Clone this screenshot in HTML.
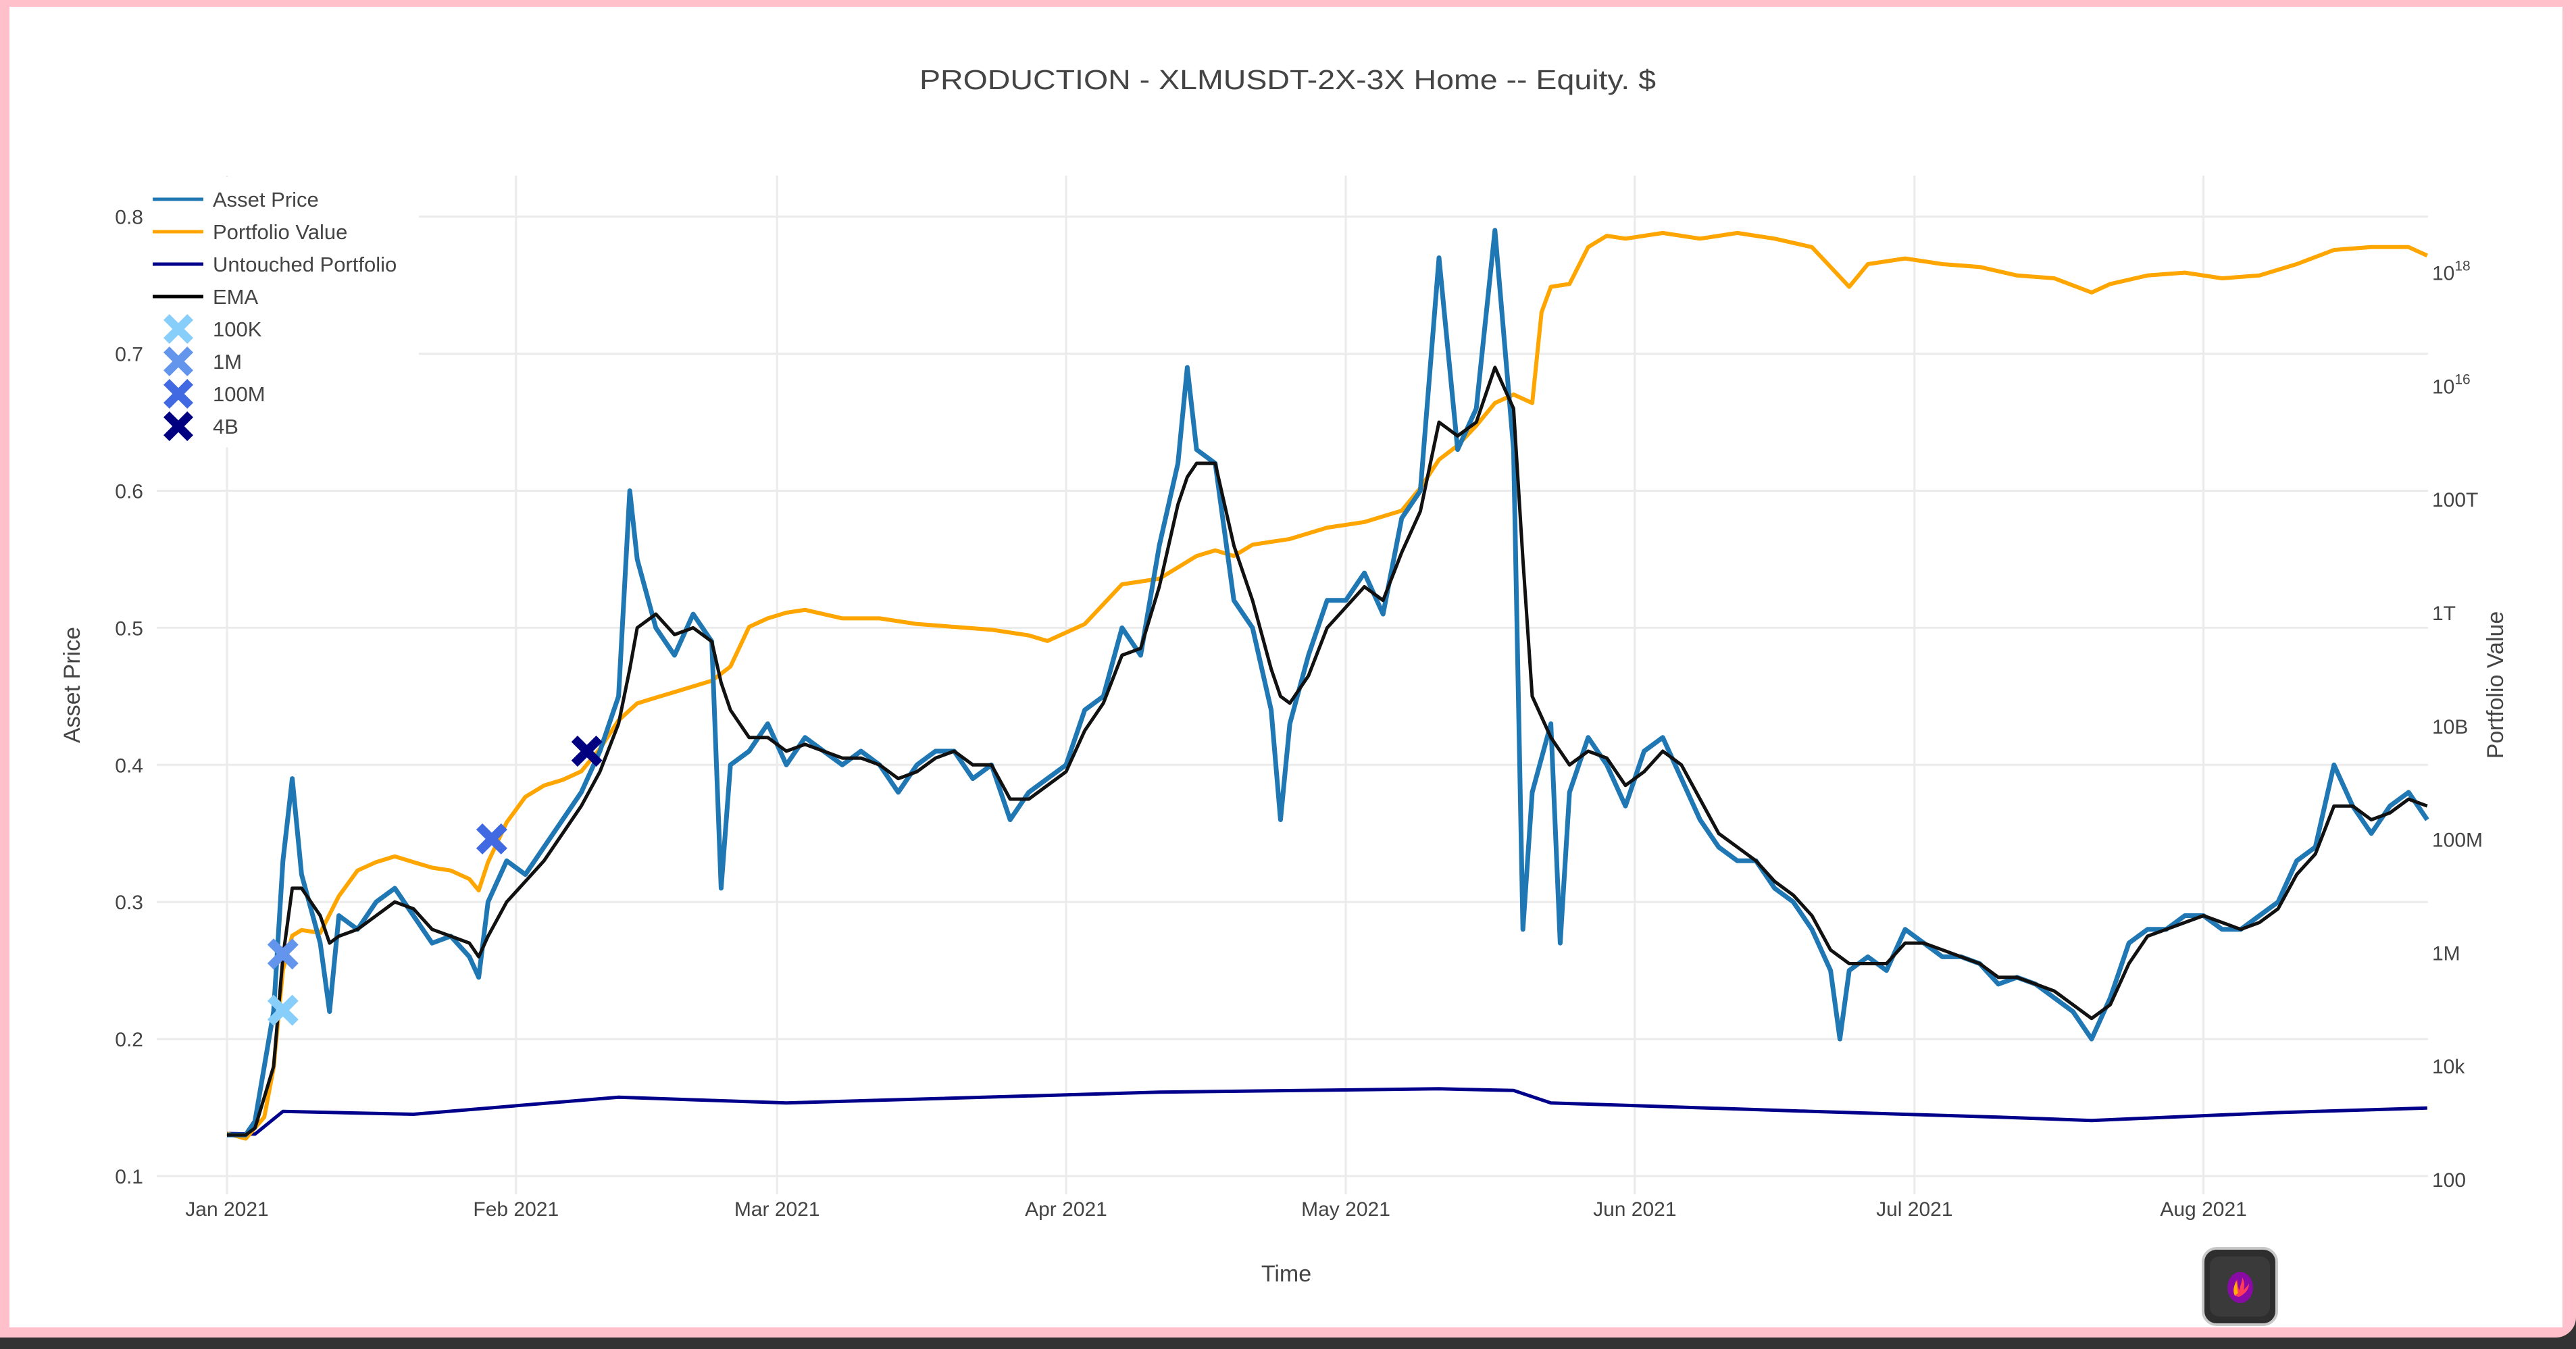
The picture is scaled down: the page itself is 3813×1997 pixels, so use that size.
<!DOCTYPE html>
<html><head><meta charset="utf-8">
<style>
html,body{margin:0;padding:0;background:#333;}
#wrap{position:relative;width:3813px;height:1997px;overflow:hidden;background:#333;}
#pink{position:absolute;left:0;top:0;width:3813px;height:1980px;background:#ffc0cb;border-bottom-right-radius:30px;}
#card{position:absolute;left:14px;top:10px;width:3779px;height:1955px;background:#fff;}
svg text{font-family:"Liberation Sans",sans-serif;fill:#444;}
#btn{position:absolute;left:3259px;top:1846px;width:113px;height:117px;box-sizing:border-box;background:#2e2e2e;border:4px solid #c8c8c8;border-radius:22px;}
#btn .inner{position:absolute;left:8px;top:10px;right:8px;bottom:10px;background:#3a3a3a;border-radius:14px;}
</style></head>
<body>
<div id="wrap">
<div id="pink"></div>
<div id="card"></div>
<svg id="chart" width="3813" height="1997" style="position:absolute;left:0;top:0">
  <text x="1906" y="132" font-size="41" text-anchor="middle" textLength="1090" lengthAdjust="spacingAndGlyphs">PRODUCTION - XLMUSDT-2X-3X Home -- Equity. $</text>
  <g id="grid"></g>
  <g id="series"></g>
  <g id="legend"></g>
  <g id="axes"></g>
  <text x="0" y="0" font-size="34" text-anchor="middle" transform="translate(118,1014) rotate(-90)">Asset Price</text>
  <text x="0" y="0" font-size="34" text-anchor="middle" transform="translate(3705,1014) rotate(-90)">Portfolio Value</text>
  <text x="1904" y="1897" font-size="34" text-anchor="middle">Time</text>
</svg>
<div id="btn"><div class="inner"></div>
<svg width="113" height="117" style="position:absolute;left:-4px;top:-4px">
<ellipse cx="57" cy="60" rx="19" ry="23" fill="#8a0aa5"/>
<path d="M49 72 C44 62 50 55 52 48 C54 55 53 60 56 64 C57 56 60 52 60 45 C64 52 63 58 62 64 C65 60 68 58 70 54 C70 64 63 70 55 74 Z" fill="#ff3c5a"/>
<path d="M49 72 C45 63 49 56 51 50 C53 57 52 63 54 68 Z" fill="#ffb000"/>
</svg></div>
</div>
<script>
// ---- data ----
const assetDays=[0,2,3,5,6,7,8,10,11,12,14,16,18,20,22,24,26,27,28,30,32,34,36,38,40,42,43.2,44,46,48,50,52,53,54,56,58,60,62,64,66,68,70,72,74,76,78,80,82,84,86,88,90,92,94,96,98,100,102,103,104,106,108,110,112,113,114,116,118,120,122,124,126,128,130,132,134,136,138,139,140,142,143,144,146,148,150,152,154,156,158,160,162,164,166,168,170,172,173,174,176,178,180,182,184,186,188,190,192,194,196,198,200,202,204,206,208,210,212,214,216,218,220,222,224,226,228,230,232,234,236];
const assetPrice=[0.13,0.13,0.14,0.22,0.33,0.39,0.32,0.27,0.22,0.29,0.28,0.30,0.31,0.29,0.27,0.275,0.26,0.245,0.30,0.33,0.32,0.34,0.36,0.38,0.41,0.45,0.60,0.55,0.50,0.48,0.51,0.49,0.31,0.40,0.41,0.43,0.40,0.42,0.41,0.40,0.41,0.40,0.38,0.40,0.41,0.41,0.39,0.40,0.36,0.38,0.39,0.40,0.44,0.45,0.50,0.48,0.56,0.62,0.69,0.63,0.62,0.52,0.50,0.44,0.36,0.43,0.48,0.52,0.52,0.54,0.51,0.58,0.60,0.77,0.63,0.66,0.79,0.63,0.28,0.38,0.43,0.27,0.38,0.42,0.40,0.37,0.41,0.42,0.39,0.36,0.34,0.33,0.33,0.31,0.30,0.28,0.25,0.20,0.25,0.26,0.25,0.28,0.27,0.26,0.26,0.255,0.24,0.245,0.24,0.23,0.22,0.20,0.23,0.27,0.28,0.28,0.29,0.29,0.28,0.28,0.29,0.30,0.33,0.34,0.40,0.37,0.35,0.37,0.38,0.36];
const emaValues=[0.13,0.13,0.135,0.18,0.26,0.31,0.31,0.29,0.27,0.275,0.28,0.29,0.30,0.295,0.28,0.275,0.27,0.26,0.275,0.30,0.315,0.33,0.35,0.37,0.395,0.43,0.47,0.50,0.51,0.495,0.50,0.49,0.46,0.44,0.42,0.42,0.41,0.415,0.41,0.405,0.405,0.40,0.39,0.395,0.405,0.41,0.40,0.40,0.375,0.375,0.385,0.395,0.425,0.445,0.48,0.485,0.53,0.59,0.61,0.62,0.62,0.56,0.52,0.47,0.45,0.445,0.465,0.50,0.515,0.53,0.52,0.555,0.585,0.65,0.64,0.65,0.69,0.66,0.55,0.45,0.42,0.41,0.40,0.41,0.405,0.385,0.395,0.41,0.40,0.375,0.35,0.34,0.33,0.315,0.305,0.29,0.265,0.26,0.255,0.255,0.255,0.27,0.27,0.265,0.26,0.255,0.245,0.245,0.24,0.235,0.225,0.215,0.225,0.255,0.275,0.28,0.285,0.29,0.285,0.28,0.285,0.295,0.32,0.335,0.37,0.37,0.36,0.365,0.375,0.37];
const portDays=[0,2,4,5,6,7,8,10,12,14,16,18,20,22,24,26,27,28,30,32,34,36,38,40,42,44,46,48,50,52,54,56,58,60,62,66,70,74,78,82,86,88,90,92,94,96,100,102,104,106,108,110,114,118,122,126,128,130,132,134,136,138,140,141,142,144,146,148,150,154,158,162,166,170,172,174,176,180,184,188,192,196,200,202,206,210,214,218,222,226,230,234,236];
const portLog10=[2.81,2.72,3.1,3.97,5.7,6.3,6.4,6.35,7.0,7.45,7.6,7.7,7.6,7.5,7.45,7.3,7.1,7.6,8.3,8.75,8.95,9.05,9.2,9.6,10.1,10.4,10.5,10.6,10.7,10.8,11.05,11.75,11.9,12.0,12.05,11.9,11.9,11.8,11.75,11.7,11.6,11.5,11.65,11.8,12.15,12.5,12.6,12.8,13.0,13.1,13.0,13.2,13.3,13.5,13.6,13.8,14.2,14.7,14.95,15.3,15.7,15.85,15.7,17.3,17.75,17.8,18.45,18.65,18.6,18.7,18.6,18.7,18.6,18.45,18.1,17.75,18.15,18.25,18.15,18.1,17.95,17.9,17.65,17.8,17.95,18.0,17.9,17.95,18.15,18.4,18.45,18.45,18.3];
const untDays=[0,3,6,20,42,60,100,130,138,142,170,190,200,220,236];
const untLog10=[2.81,2.8,3.2,3.15,3.45,3.35,3.54,3.6,3.57,3.35,3.2,3.1,3.04,3.18,3.26];
const markerNames=["100K","1M","100M","4B"];
const markerDays=[6,6,28.4,38.6];
const markerPrice=[0.221,0.262,0.346,0.41];
const markerColors=["#87cefa","#6495ed","#4169e1","#000080"];
const xTickLabels=["Jan 2021","Feb 2021","Mar 2021","Apr 2021","May 2021","Jun 2021","Jul 2021","Aug 2021"];
const xTickDays=[0,31,59,90,120,151,181,212];
const yTicks=[0.1,0.2,0.3,0.4,0.5,0.6,0.7,0.8];
const y2TickExp=[2,4,6,8,10,12,14,16,18];
const y2TickLabels=["100","10k","1M","100M","10B","1T","100T","10","10"];

// ---- axes ----
const X0=232,X1=3594,YT=260,YB=1768;
const x=d=>336+d*13.8;
const y=v=>1741-(v-0.1)*2029;
const y2=l=>1746-(l-2)*83.9;
const NS="http://www.w3.org/2000/svg";
function mk(tag,attrs,parent){const e=document.createElementNS(NS,tag);for(const k in attrs)e.setAttribute(k,attrs[k]);parent.appendChild(e);return e;}
const grid=document.getElementById('grid'),series=document.getElementById('series'),axes=document.getElementById('axes'),legend=document.getElementById('legend');
xTickDays.forEach((d,i)=>{
  const l=mk('line',{x1:x(d),x2:x(d),y1:YT,y2:YB,stroke:'#ebebeb','stroke-width':3},grid);
  
  
  const t=mk('text',{x:x(d),y:1800,'font-size':30,'text-anchor':'middle'},axes);
  t.textContent=xTickLabels[i];
  
  
});
yTicks.forEach(v=>{
  const l=mk('line',{x1:X0,x2:X1,y1:y(v),y2:y(v),stroke:'#ebebeb','stroke-width':3},grid);
  
  
  const t=mk('text',{x:212,y:y(v)+11,'font-size':30,'text-anchor':'end'},axes);
  t.textContent=v.toFixed(1);
  
  
});
y2TickExp.forEach((e,i)=>{
  const t=mk('text',{x:3600,y:y2(e)+11,'font-size':30},axes);
  t.textContent=y2TickLabels[i];
  if(e>=16){const s=mk('tspan',{dy:-14,'font-size':21},t);s.textContent=String(e);}
  
  
});
function path(xs,ys,fx,fy,color,w,name){
  let d='';xs.forEach((a,i)=>{d+=(i?'L':'M')+fx(a).toFixed(1)+' '+fy(ys[i]).toFixed(1);});
  const p=mk('path',{d:d,fill:'none',stroke:color,'stroke-width':w,'stroke-linejoin':'round'},series);
  
  
}
path(untDays,untLog10,x,y2,'#00008b',5,'untouched-portfolio-line');
path(portDays,portLog10,x,y2,'#ffa500',6,'portfolio-value-line');
path(assetDays,assetPrice,x,y,'#1f77b4',7,'asset-price-line');
path(assetDays,emaValues,x,y,'#111',5,'ema-line');
function cross(cx,cy,s,color,parent){
  const h=s/2,k=s*0.2;
  const pts=[[-h,-h+k],[-h+k,-h],[0,-k],[h-k,-h],[h,-h+k],[k,0],[h,h-k],[h-k,h],[0,k],[-h+k,h],[-h,h-k],[-k,0]];
  return mk('polygon',{points:pts.map(p=>(cx+p[0]).toFixed(1)+','+(cy+p[1]).toFixed(1)).join(' '),fill:color},parent);
}
markerDays.forEach((d,i)=>{
  const m=cross(x(d),y(markerPrice[i]),46,markerColors[i],series);
  
  
});
// legend
mk('rect',{x:220,y:262,width:400,height:400,fill:'#fff'},legend);
const legNames=["Asset Price","Portfolio Value","Untouched Portfolio","EMA"];
const legColors=["#1f77b4","#ffa500","#00008b","#000"];
legNames.forEach((n,i)=>{
  const yy=295+i*48;
  const g=mk('g',{},legend);
  
  
  mk('line',{x1:226,x2:301,y1:yy,y2:yy,stroke:legColors[i],'stroke-width':5},g);
  const t=mk('text',{x:315,y:yy+11,'font-size':31},g);t.textContent=n;
});
markerNames.forEach((n,i)=>{
  const yy=487+i*48;
  const g=mk('g',{},legend);
  
  
  cross(264,yy,44,markerColors[i],g);
  const t=mk('text',{x:315,y:yy+11,'font-size':31},g);t.textContent=n;
});
</script>
</body></html>
